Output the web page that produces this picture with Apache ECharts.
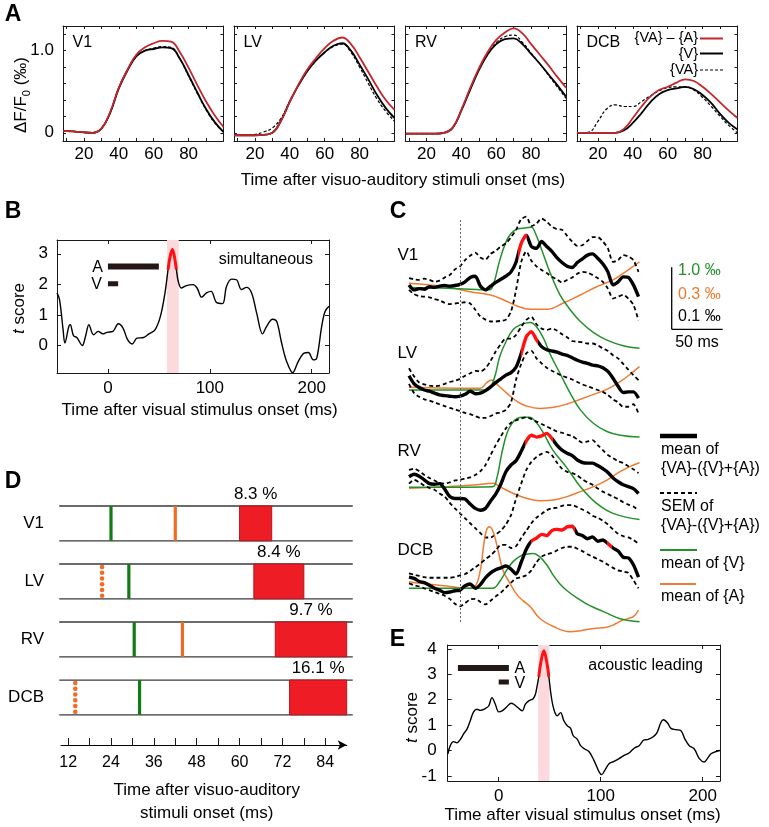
<!DOCTYPE html>
<html>
<head>
<meta charset="utf-8">
<title>Figure</title>
<script src="https://cdn.jsdelivr.net/npm/echarts@6.0.0/dist/echarts.min.js"></script>
<style>
html,body{margin:0;padding:0;background:#ffffff;}
#chart{width:769px;height:827px;}
</style>
</head>
<body>
<div id="chart"></div>
<script>
// ================= DATA =================
// ---- Panel A : dF/F0 (permil) vs time after visuo-auditory stimuli onset (ms)
const aTime = [8,10,15,20,25,30,35,40,45,50,55,60,65,70,75,80,85,90,95,100];
const aRegions = ['V1','LV','RV','DCB'];
const aV1_V        = [0.02,0.02,0.015,0.005,0.0,0.05,0.24,0.54,0.76,0.93,1.0,1.02,1.04,1.03,0.90,0.70,0.49,0.29,0.13,0.01];
const aV1_VAminusA = [0.02,0.02,0.015,0.005,0.0,0.05,0.25,0.55,0.77,0.95,1.04,1.09,1.12,1.11,0.98,0.79,0.58,0.38,0.21,0.07];
const aV1_VA       = [0.02,0.02,0.015,0.005,0.0,0.05,0.25,0.55,0.77,0.94,1.0,1.03,1.05,1.04,0.90,0.69,0.48,0.28,0.12,0.01];
const aLV_V        = [-0.03,-0.03,-0.03,-0.03,-0.025,0.0,0.15,0.38,0.58,0.75,0.88,0.98,1.06,1.09,1.0,0.83,0.65,0.46,0.30,0.18];
const aLV_VAminusA = [-0.03,-0.03,-0.03,-0.03,-0.025,0.0,0.15,0.38,0.59,0.77,0.91,1.03,1.12,1.16,1.08,0.92,0.74,0.56,0.40,0.28];
const aLV_VA       = [-0.03,-0.03,-0.03,-0.02,0.01,0.06,0.18,0.39,0.58,0.75,0.88,0.98,1.05,1.08,0.98,0.80,0.60,0.41,0.26,0.14];
const aRV_V        = [-0.01,-0.01,-0.01,-0.01,-0.01,0.0,0.06,0.27,0.52,0.76,0.95,1.08,1.14,1.15,1.08,0.96,0.84,0.71,0.58,0.44];
const aRV_VAminusA = [-0.01,-0.01,-0.01,-0.01,-0.01,0.0,0.06,0.28,0.54,0.78,0.98,1.13,1.22,1.27,1.21,1.08,0.95,0.82,0.68,0.55];
const aRV_VA       = [-0.01,-0.01,-0.01,-0.01,-0.01,0.0,0.06,0.28,0.53,0.77,0.97,1.10,1.17,1.19,1.10,0.97,0.84,0.70,0.56,0.42];
const aDCB_V        = [0,0,0,0,0,0,0.03,0.12,0.24,0.37,0.47,0.52,0.54,0.56,0.53,0.46,0.36,0.23,0.12,0.04];
const aDCB_VAminusA = [0,0,0,0,0,0,0.05,0.18,0.32,0.44,0.52,0.56,0.61,0.65,0.63,0.56,0.47,0.37,0.27,0.18];
const aDCB_VA       = [0,0,0.01,0.14,0.29,0.34,0.32,0.32,0.38,0.45,0.51,0.55,0.56,0.56,0.52,0.43,0.32,0.20,0.09,0.0];
const aXTicks = [10,20,30,40,50,60,70,80,90];
const aXLabels = [20,40,60,80];
const aYTicks = [0,0.2,0.4,0.6,0.8,1.0,1.2];
const aYLabels = [0,1];

// ---- Panel B : t score, simultaneous
const bTime  = [-50,-47.5,-44,-42.3,-38.4,-37,-33.8,-30.5,-25.2,-22,-18.7,-14.1,-9.5,-4.9,-1,4.9,10.2,14.8,19.3,23.9,28.5,35,40.3,46.2,51.5,56,59,61,63.3,65,67.2,69,72,77,83.6,87.5,92,96.7,101.3,106.5,112.5,116.4,121.3,126.2,131,136,141,146,151.8,155.7,161.6,165.6,170.5,175.4,181.3,186.9,192.5,196.7,201.6,204.9,209.8,213.1,217];
const bScore = [1.72,1.5,0.51,0.08,0.62,0.68,0.32,0.26,0.0,0.3,0.68,0.35,0.46,0.38,0.43,0.46,0.71,0.57,0.19,0.05,0.24,0.26,0.38,0.51,0.95,1.72,2.48,2.9,3.14,2.95,2.48,2.1,1.88,1.96,1.99,1.88,1.58,1.72,1.77,1.41,1.37,1.93,2.17,2.15,1.83,1.9,1.72,1.06,0.38,0.62,0.86,0.79,0.08,-0.52,-0.89,-0.52,-0.25,-0.23,-0.47,-0.42,0.62,1.11,1.28];
const bSignif = [59, 67.2];
const bBand = [58, 69.5];
const bStimA = [0, 50];
const bStimV = [0, 10];
const bTicksX = [0,100,200];
const bTicksY = [0,1,2,3];

// ---- Panel C : traces (permil) vs time after visual stimulus onset (ms)
const cTime = [-50,-45,-40,-35,-30,-25,-20,-15,-10,-5,0,5,10,15,20,25,30,35,40,45,50,55,60,65,70,75,80,85,90,95,100,105,110,115,120,125,130,135,140,145,150,155,160,165,170,175];
const cV1Mean  = [0.005,-0.003,-0.001,-0.002,0.002,0.001,0.003,0.004,0.003,0.004,0.006,0.010,0.017,0.019,0.003,-0.003,0.003,0.009,0.014,0.019,0.026,0.042,0.072,0.085,0.067,0.064,0.075,0.067,0.059,0.049,0.041,0.035,0.033,0.041,0.047,0.053,0.055,0.048,0.039,0.026,0.005,0.010,0.018,0.017,0.005,-0.014];
const cV1SemHi = [0.016,0.014,0.013,0.015,0.013,0.010,0.012,0.017,0.021,0.030,0.035,0.045,0.052,0.057,0.049,0.046,0.055,0.060,0.067,0.072,0.082,0.094,0.111,0.115,0.100,0.104,0.112,0.107,0.099,0.095,0.094,0.084,0.075,0.068,0.069,0.076,0.082,0.082,0.075,0.064,0.042,0.045,0.053,0.051,0.045,0.026];
const cV1SemLo = [-0.003,-0.010,-0.013,-0.014,-0.015,-0.018,-0.020,-0.024,-0.026,-0.025,-0.024,-0.023,-0.025,-0.035,-0.046,-0.051,-0.054,-0.054,-0.053,-0.051,-0.038,-0.003,0.042,0.059,0.044,0.035,0.029,0.024,0.018,0.014,0.009,0.013,0.017,0.023,0.026,0.025,0.021,0.016,0.010,-0.001,-0.017,-0.014,-0.011,-0.017,-0.027,-0.052];
const cLVMean  = [0.023,0.010,0.004,0.000,-0.002,-0.005,-0.008,-0.009,-0.010,-0.011,-0.010,-0.007,-0.002,-0.006,-0.005,-0.001,0.005,0.012,0.018,0.024,0.028,0.037,0.059,0.086,0.094,0.081,0.070,0.065,0.063,0.061,0.058,0.056,0.052,0.048,0.045,0.043,0.040,0.039,0.036,0.030,0.019,0.006,-0.004,-0.003,-0.003,-0.013];
const cLVSemHi = [0.035,0.022,0.012,0.009,0.007,0.006,0.007,0.010,0.013,0.015,0.018,0.023,0.027,0.031,0.030,0.035,0.047,0.062,0.074,0.083,0.083,0.089,0.102,0.113,0.118,0.106,0.099,0.097,0.099,0.096,0.090,0.085,0.079,0.078,0.077,0.075,0.075,0.072,0.067,0.063,0.056,0.051,0.042,0.033,0.024,0.016];
const cLVSemLo = [0.010,-0.005,-0.011,-0.015,-0.017,-0.020,-0.023,-0.026,-0.029,-0.031,-0.034,-0.037,-0.039,-0.042,-0.045,-0.045,-0.042,-0.038,-0.036,-0.032,-0.020,0.017,0.042,0.059,0.063,0.051,0.043,0.036,0.031,0.027,0.023,0.020,0.017,0.013,0.009,0.006,0.003,0.000,-0.003,-0.008,-0.015,-0.020,-0.027,-0.027,-0.023,-0.038];
const cRVMean  = [0.017,0.021,0.018,0.012,0.006,0.005,0.006,-0.003,-0.015,-0.018,-0.018,-0.019,-0.027,-0.034,-0.037,-0.034,-0.022,-0.011,0.005,0.025,0.036,0.043,0.058,0.075,0.084,0.081,0.083,0.087,0.079,0.068,0.060,0.055,0.051,0.044,0.040,0.039,0.039,0.035,0.030,0.024,0.015,0.009,0.004,0.001,-0.002,-0.010];
const cRVSemHi = [0.028,0.030,0.026,0.020,0.015,0.011,0.007,0.006,0.008,0.011,0.012,0.014,0.016,0.020,0.026,0.036,0.052,0.068,0.082,0.095,0.104,0.108,0.111,0.113,0.110,0.106,0.102,0.098,0.094,0.090,0.088,0.085,0.083,0.077,0.072,0.074,0.076,0.068,0.060,0.052,0.047,0.042,0.039,0.034,0.029,0.023];
const cRVSemLo = [0.006,0.012,0.008,0.003,-0.001,-0.004,-0.010,-0.015,-0.025,-0.034,-0.042,-0.050,-0.058,-0.066,-0.074,-0.081,-0.081,-0.076,-0.070,-0.060,-0.045,-0.018,0.006,0.028,0.041,0.049,0.054,0.057,0.052,0.040,0.030,0.025,0.023,0.019,0.013,0.008,0.004,-0.002,-0.007,-0.011,-0.015,-0.019,-0.024,-0.028,-0.031,-0.037];
const cDCBMean  = [0.018,0.016,0.011,0.009,0.005,0.000,-0.003,-0.007,-0.006,-0.004,-0.003,0.004,0.007,0.000,0.006,0.017,0.025,0.030,0.033,0.036,0.031,0.023,0.042,0.063,0.076,0.081,0.087,0.085,0.093,0.095,0.094,0.099,0.100,0.088,0.085,0.080,0.083,0.076,0.078,0.072,0.065,0.060,0.050,0.049,0.038,0.018];
const cDCBSemHi = [0.024,0.022,0.020,0.018,0.017,0.017,0.017,0.017,0.017,0.018,0.021,0.023,0.028,0.034,0.040,0.047,0.053,0.061,0.070,0.070,0.065,0.068,0.081,0.093,0.105,0.114,0.120,0.126,0.129,0.130,0.133,0.134,0.134,0.131,0.127,0.123,0.117,0.114,0.109,0.103,0.095,0.088,0.084,0.082,0.078,0.072];
const cDCBSemLo = [0.008,0.005,0.003,0.000,-0.003,-0.006,-0.009,-0.012,-0.017,-0.025,-0.029,-0.024,-0.018,-0.017,-0.022,-0.026,-0.020,-0.013,-0.007,0.001,0.009,0.016,0.018,0.021,0.029,0.042,0.051,0.055,0.057,0.061,0.065,0.067,0.067,0.064,0.060,0.055,0.051,0.047,0.043,0.038,0.033,0.029,0.027,0.025,0.013,0.000];
const cV1Green  = [[-50,0.01],[-20,0.0],[10,-0.02],[29,-0.03],[33,0.07],[39,0.45],[45,0.74],[50,0.88],[56,0.95],[65,0.97],[70,0.98],[74,0.88],[80,0.62],[88,0.26],[98,-0.11],[108,-0.35],[118,-0.54],[131,-0.72],[144,-0.84],[160,-0.93],[176,-0.97]];
const cV1Orange = [[-50,0.023],[-30,0.015],[-10,0.003],[10,-0.018],[30,-0.034],[43,-0.058],[56,-0.087],[69,-0.103],[85,-0.103],[101,-0.074],[118,-0.034],[134,0.006],[150,0.039],[160,0.071],[167,0.095],[176,0.127]];
const cLVGreen  = [[-50,0],[26,0],[33,0.16],[39,0.54],[46,0.81],[52,0.97],[59,1.05],[69,1.09],[75,1.02],[82,0.83],[88,0.59],[98,0.27],[108,-0.05],[118,-0.32],[131,-0.54],[144,-0.67],[157,-0.73],[176,-0.76]];
const cLVOrange = [[-50,0.013],[20,0.008],[26,0.035],[31,0.048],[37,0.024],[46,-0.016],[56,-0.056],[65,-0.077],[78,-0.089],[92,-0.084],[105,-0.068],[118,-0.045],[131,-0.021],[144,0.003],[157,0.040],[170,0.089],[176,0.113]];
const cRVGreen  = [[-50,0],[32,0.01],[36,0.14],[41,0.55],[46,0.87],[51,1.03],[56,1.11],[62,1.13],[68,1.13],[75,1.04],[82,0.87],[91,0.6],[105,0.31],[118,0.01],[134,-0.26],[150,-0.42],[176,-0.52]];
const cRVOrange = [[-50,-0.005],[-13,0.003],[13,0.011],[33,0.019],[39,0.003],[52,-0.029],[65,-0.053],[78,-0.065],[92,-0.061],[105,-0.045],[118,-0.021],[131,0.003],[144,0.035],[157,0.076],[170,0.108],[176,0.119]];
const cDCBGreen  = [[-50,0],[32,0],[39,0.11],[46,0.30],[52,0.43],[59,0.52],[65,0.55],[72,0.56],[78,0.51],[85,0.38],[91,0.22],[98,0.07],[105,-0.04],[115,-0.16],[124,-0.25],[134,-0.33],[144,-0.40],[157,-0.49],[176,-0.54]];
const cDCBOrange = [[-50,0.032],[-39,0.024],[-13,0.011],[6,0.0],[14,0.006],[20,0.089],[23,0.201],[26,0.282],[29,0.298],[33,0.266],[38,0.169],[42,0.089],[49,0.024],[56,-0.032],[62,-0.061],[69,-0.089],[78,-0.145],[92,-0.186],[108,-0.21],[118,-0.205],[131,-0.194],[144,-0.189],[150,-0.178],[160,-0.153],[170,-0.137],[175,-0.105]];
const cV1Signif  = [[57,66]];
const cLVSignif  = [[60,76]];
const cRVSignif  = [[64,91]];
const cDCBSignif = [[70,113],[144,149]];
const cScaleBarPermil = {mean: 0.1, green: 1.0, orange: 0.3};
const cScaleBarMs = 50;

// ---- Panel D : onset latencies (ms after visuo-auditory stimuli onset)
const dRows = ['V1','LV','RV','DCB'];
const dGreenOnset  = [24, 29, 30.5, 32];
const dOrangeOnset = [42, 21.5, 44, 14];
const dOrangeDotted = [false, true, false, true];
const dSigStart = [60, 64, 70, 74];
const dSigEnd   = [69, 78, 90, 90];
const dSigPercent = [8.3, 8.4, 9.7, 16.1];
const dTicks  = [12,18,24,30,36,42,48,54,60,66,72,78,84];
const dLabels = [12,24,36,48,60,72,84];

// ---- Panel E : t score, acoustic leading
const eTime  = [-49.8,-47.5,-44.3,-41,-37.7,-34.4,-31.1,-27.9,-24.6,-21.3,-18,-13.1,-9.8,-6.6,-3.3,0,3.3,8.2,12.1,14.8,18.7,23,26.2,29.5,33.8,36,37.5,39.3,41.5,44.3,47,49.2,51.5,54.1,57.4,60.7,63.9,67.2,70.5,73.1,77,80.3,84.3,88.5,93.4,98.4,101,104,108.2,113.1,118,123,127.9,132.8,137.7,142.6,145.9,150.8,155,159,161.6,165.6,168.9,173.8,178.7,182.6,186.9,191.8,196.7,201.6,204.9,208.2,213.1,217];
const eScore = [-0.13,0.19,0.35,0.30,0.43,0.65,0.84,1.17,1.52,1.62,1.58,1.65,1.75,2.08,1.82,1.52,1.56,1.73,1.86,1.82,1.69,1.56,1.82,1.95,2.04,2.21,2.5,2.9,3.5,3.92,3.5,2.9,2.14,1.62,1.36,1.49,1.17,0.97,0.87,0.58,0.45,0.19,0.06,-0.04,-0.39,-0.84,-0.95,-0.78,-0.52,-0.43,-0.32,-0.19,-0.10,0.09,0.19,0.42,0.43,0.52,0.68,1.10,1.21,1.08,0.87,0.82,0.78,0.45,0.19,0.06,-0.32,-0.45,-0.30,-0.13,-0.04,0.0];
const eSignif = [39.3, 49.2];
const eBand = [38.7, 49.8];
const eStimA = [-40, 10];
const eStimV = [0, 10];
const eTicksY = [-1,0,1,2,3,4];

// ================= LAYOUT / STYLE =================
const FONT = '"Liberation Sans", Arial, Helvetica, sans-serif';
const font = (s, w) => (w ? w + ' ' : '') + s + 'px ' + FONT;
const RED_A = '#c1272d', RED = '#ff1111', PINK = '#fbd9dc';
const C_GREEN = '#23912a', C_ORANGE = '#f07a32';
const D_GREEN = '#147a16', D_ORANGE = '#f26b22', D_RED = '#ee1d25';
const BARC = '#231815';

const aLeft = [63, 234, 405.5, 577], aTop = 26, aW = 160.5, aH = 115;
const cLeft = 409, cTop = 218, cHeight = 404, cPxPerMs = 1.02, cXMin = -50, cXMax = 176;
const cBarPx = 62;               // pixel length of the scale bar
const cBaseY = [288, 390, 487.3, 588.3];
const dSpan = 0.6, dFrameFrom = 9.5, dFrameTo = 91.7;
const bBarY = [2.58, 2.02], eBarY = [3.25, 2.69];

const grids = [];
aLeft.forEach(l => grids.push({left: l, top: aTop, width: aW, height: aH}));
grids.push({left: 57, top: 240, width: 272, height: 133});                       // 4 B
grids.push({left: cLeft, top: cTop, width: (cXMax - cXMin) * cPxPerMs, height: cHeight}); // 5 C
grids.push({left: 61, top: 506, width: 285.7, height: 239});                     // 6 D
grids.push({left: 447.7, top: 645, width: 272.3, height: 136});                  // 7 E
grids.forEach(g => { g.containLabel = false; g.outerBoundsMode = 'none'; g.show = false; });

function axis(gridIndex, position, min, max, ticks, labels, tickLen, margin, fmt, fs) {
  const a = {
    type: 'value', gridIndex, position, min, max, silent: true,
    splitLine: {show: false},
    axisLine: {show: true, onZero: false, lineStyle: {color: '#1a1a1a', width: 1}},
    axisTick: {show: !!ticks, inside: true, length: tickLen, lineStyle: {color: '#1a1a1a', width: 1}},
    axisLabel: {show: !!labels, margin: margin, color: '#000', fontSize: fs || 17, fontFamily: FONT, hideOverlap: false}
  };
  if (ticks) a.axisTick.customValues = ticks;
  if (labels) a.axisLabel.customValues = labels;
  if (fmt) a.axisLabel.formatter = fmt;
  return a;
}
const hidden = (gridIndex, min, max) => ({type: 'value', gridIndex, min, max, show: false, splitLine: {show: false}});

const xAxes = [], yAxes = [], series = [], visualMaps = [], graphics = [];
const zip = (xs, ys) => xs.map((x, i) => [x, ys[i]]);
function line(xi, yi, data, ls, extra) {
  return Object.assign({type: 'line', xAxisIndex: xi, yAxisIndex: yi, data, symbol: 'none', showSymbol: false,
    silent: true, animation: false, smooth: 0.3, lineStyle: ls, z: 2}, extra || {});
}

// ---------- Panel A ----------
const aSets = [[aV1_VA, aV1_V, aV1_VAminusA], [aLV_VA, aLV_V, aLV_VAminusA], [aRV_VA, aRV_V, aRV_VAminusA], [aDCB_VA, aDCB_V, aDCB_VAminusA]];
aRegions.forEach((name, r) => {
  xAxes.push(axis(r, 'bottom', 8, 100, aXTicks, aXLabels, 3, 5));
  xAxes.push(axis(r, 'top', 8, 100, aXTicks, null, 3, 5));
  yAxes.push(axis(r, 'left', -0.1, 1.3, aYTicks, r === 0 ? aYLabels : null, 3, 9, v => (v === 0 ? '0' : v.toFixed(1))));
  yAxes.push(axis(r, 'right', -0.1, 1.3, aYTicks, null, 3, 5));
  const [va, v, diff] = aSets[r];
  series.push(line(2 * r, 2 * r, zip(aTime, va), {color: '#000', width: 1.2, type: [3, 2]}, {smooth: 0.45}));
  series.push(line(2 * r, 2 * r, zip(aTime, v), {color: '#000', width: 1.8}, {smooth: 0.45}));
  series.push(line(2 * r, 2 * r, zip(aTime, diff), {color: RED_A, width: 1.8}, {smooth: 0.45}));
});

// ---------- Panel B ----------
xAxes.push(axis(4, 'bottom', -50, 217, bTicksX, bTicksX, 4, 7));     // 8
xAxes.push(axis(4, 'top', -50, 217, bTicksX, null, 4, 7));           // 9
yAxes.push(axis(4, 'left', -0.9, 3.45, bTicksY, bTicksY, 4, 9));     // 8
yAxes.push(axis(4, 'right', -0.9, 3.45, bTicksY, null, 4, 9));       // 9
const bData = zip(bTime, bScore);
series.push(line(8, 8, bData, {color: '#000', width: 1.4}, {smooth: 0.35,
  markArea: {silent: true, z: 1, itemStyle: {color: PINK}, data: [[{xAxis: bBand[0]}, {xAxis: bBand[1]}]]}}));
series.push(line(8, 8, bData.filter(p => p[0] >= bSignif[0] && p[0] <= bSignif[1]), {color: RED, width: 3}, {smooth: 0.35, z: 3}));
series.push(line(8, 8, [[bStimA[0], bBarY[0]], [bStimA[1], bBarY[0]]], {color: BARC, width: 6}, {smooth: false}));
series.push(line(8, 8, [[bStimV[0], bBarY[1]], [bStimV[1], bBarY[1]]], {color: BARC, width: 5}, {smooth: false}));

// ---------- Panel C ----------
xAxes.push(hidden(5, cXMin, cXMax));   // 10
const cRegions = [
  {name: 'V1', mean: cV1Mean, hi: cV1SemHi, lo: cV1SemLo, green: cV1Green, orange: cV1Orange, sig: cV1Signif},
  {name: 'LV', mean: cLVMean, hi: cLVSemHi, lo: cLVSemLo, green: cLVGreen, orange: cLVOrange, sig: cLVSignif},
  {name: 'RV', mean: cRVMean, hi: cRVSemHi, lo: cRVSemLo, green: cRVGreen, orange: cRVOrange, sig: cRVSignif},
  {name: 'DCB', mean: cDCBMean, hi: cDCBSemHi, lo: cDCBSemLo, green: cDCBGreen, orange: cDCBOrange, sig: cDCBSignif}
];
const cKinds = ['mean', 'green', 'orange'];
cRegions.forEach((reg, r) => {
  const idx = {};
  cKinds.forEach(k => {
    const s = cScaleBarPermil[k];
    const max = (cBaseY[r] - cTop) / cBarPx * s;
    const min = max - cHeight / cBarPx * s;
    idx[k] = yAxes.length;
    yAxes.push(hidden(5, min, max));
  });
  const extra = {clip: false, smooth: 0.25};
  const orangeS = line(10, idx.orange, reg.orange, {color: C_ORANGE, width: 1.5}, Object.assign({}, extra, {smooth: 0.4}));
  if (r === 0) {
    orangeS.markLine = {silent: true, symbol: 'none', label: {show: false}, animation: false,
      lineStyle: {type: [2, 2], color: '#666', width: 1}, data: [{xAxis: 0}]};
  }
  series.push(orangeS);
  series.push(line(10, idx.green, reg.green, {color: C_GREEN, width: 1.5}, Object.assign({}, extra, {smooth: 0.4})));
  series.push(line(10, idx.mean, zip(cTime, reg.hi), {color: '#000', width: 1.8, type: [4, 3]}, extra));
  series.push(line(10, idx.mean, zip(cTime, reg.lo), {color: '#000', width: 1.8, type: [4, 3]}, extra));
  series.push(line(10, idx.mean, zip(cTime, reg.mean), {width: 3.4}, Object.assign({}, extra, {z: 4})));
  visualMaps.push({type: 'piecewise', show: false, seriesIndex: series.length - 1, dimension: 0,
    pieces: reg.sig.map(s => ({gte: s[0], lte: s[1], color: RED})), outOfRange: {color: '#000'}});
});

// ---------- Panel D ----------
xAxes.push(Object.assign(axis(6, 'bottom', 10, 90, dTicks, dLabels, 7, 10, null, 16), {}));  // 11
xAxes[xAxes.length - 1].axisLine = {show: true, onZero: false, symbol: ['none', 'arrow'], symbolSize: [7, 9],
  lineStyle: {color: '#000', width: 1.2}};
yAxes.push({type: 'value', gridIndex: 6, min: 0, max: 4.12, inverse: true, show: false, splitLine: {show: false}}); // 22
const dX = 11, dY = 22;
series.push({type: 'custom', coordinateSystem: 'cartesian2d', xAxisIndex: dX, yAxisIndex: dY, silent: true,
  data: dRows.map((n, i) => [i]),
  renderItem: (p, api) => {
    const row = api.value(0);
    const a = api.coord([dFrameFrom, row]), b = api.coord([dFrameTo, row]);
    const c = api.coord([dFrameFrom, row + dSpan]), d = api.coord([dFrameTo, row + dSpan]);
    return {type: 'group', children: [
      {type: 'line', shape: {x1: a[0], y1: a[1], x2: b[0], y2: b[1]}, style: {stroke: '#3a3a3a', lineWidth: 1.3}},
      {type: 'line', shape: {x1: c[0], y1: c[1], x2: d[0], y2: d[1]}, style: {stroke: '#3a3a3a', lineWidth: 1.3}}
    ]};
  }});
series.push({type: 'custom', coordinateSystem: 'cartesian2d', xAxisIndex: dX, yAxisIndex: dY, silent: true,
  data: dRows.map((n, i) => [dSigStart[i], i, dSigEnd[i], dSigPercent[i]]),
  renderItem: (p, api) => {
    const s = api.value(0), row = api.value(1), e = api.value(2), pct = api.value(3);
    const tl = api.coord([s, row]), br = api.coord([e, row + dSpan]);
    const mid = api.coord([(s + e) / 2, row]);
    return {type: 'group', children: [
      {type: 'rect', shape: {x: tl[0], y: tl[1], width: br[0] - tl[0], height: br[1] - tl[1]},
        style: {fill: D_RED, stroke: '#b5151c', lineWidth: 1}},
      {type: 'text', x: mid[0], y: mid[1] - 12, style: {text: pct.toFixed(1) + ' %', font: font(17), fill: '#000',
        textAlign: 'center', textVerticalAlign: 'middle'}}
    ]};
  }});
series.push({type: 'custom', coordinateSystem: 'cartesian2d', xAxisIndex: dX, yAxisIndex: dY, silent: true,
  data: dRows.map((n, i) => [dGreenOnset[i], i]),
  renderItem: (p, api) => {
    const t = api.value(0), row = api.value(1);
    const a = api.coord([t, row]), b = api.coord([t, row + dSpan]);
    return {type: 'line', shape: {x1: a[0], y1: a[1], x2: b[0], y2: b[1]}, style: {stroke: D_GREEN, lineWidth: 3.2}};
  }});
series.push({type: 'custom', coordinateSystem: 'cartesian2d', xAxisIndex: dX, yAxisIndex: dY, silent: true,
  data: dRows.map((n, i) => [dOrangeOnset[i], i, dOrangeDotted[i] ? 1 : 0]),
  renderItem: (p, api) => {
    const t = api.value(0), row = api.value(1), dotted = api.value(2);
    const a = api.coord([t, row]), b = api.coord([t, row + dSpan]);
    if (!dotted) {
      return {type: 'line', shape: {x1: a[0], y1: a[1], x2: b[0], y2: b[1]}, style: {stroke: D_ORANGE, lineWidth: 3.2}};
    }
    const n = 6, children = [];
    for (let k = 0; k < n; k++) {
      const y = a[1] + 3 + k * (b[1] - a[1] - 6) / (n - 1);
      children.push({type: 'circle', shape: {cx: a[0], cy: y, r: 2.3}, style: {fill: D_ORANGE}});
    }
    return {type: 'group', children};
  }});

// ---------- Panel E ----------
xAxes.push(axis(7, 'bottom', -50, 217, bTicksX, bTicksX, 4, 7));   // 12
xAxes.push(axis(7, 'top', -50, 217, bTicksX, null, 4, 7));         // 13
yAxes.push(axis(7, 'left', -1.2, 4.15, eTicksY, eTicksY, 4, 11));  // 23
yAxes.push(axis(7, 'right', -1.2, 4.15, eTicksY, null, 4, 11));    // 24
const eData = zip(eTime, eScore);
series.push(line(12, 23, eData, {color: '#000', width: 1.4}, {smooth: 0.35,
  markArea: {silent: true, z: 1, itemStyle: {color: PINK}, data: [[{xAxis: eBand[0]}, {xAxis: eBand[1]}]]}}));
series.push(line(12, 23, eData.filter(p => p[0] >= eSignif[0] && p[0] <= eSignif[1]), {color: RED, width: 3}, {smooth: 0.35, z: 3}));
series.push(line(12, 23, [[eStimA[0], eBarY[0]], [eStimA[1], eBarY[0]]], {color: BARC, width: 6}, {smooth: false}));
series.push(line(12, 23, [[eStimV[0], eBarY[1]], [eStimV[1], eBarY[1]]], {color: BARC, width: 5}, {smooth: false}));

// ================= TEXT / ANNOTATIONS =================
function txt(x, y, text, size, opt, elOpt) {
  return Object.assign({type: 'text', x, y, silent: true, z: 10,
    style: Object.assign({text, fill: '#000', font: font(size), textAlign: 'left', textVerticalAlign: 'middle'}, opt || {})}, elOpt || {});
}
function seg(x1, y1, x2, y2, stroke, w, dash) {
  const s = {stroke, lineWidth: w};
  if (dash) s.lineDash = dash;
  return {type: 'line', silent: true, z: 10, shape: {x1, y1, x2, y2}, style: s};
}
// panel letters
[['A', 13, 15], ['B', 13, 212], ['C', 398, 212], ['D', 13, 482], ['E', 397.5, 639.5]].forEach(l =>
  graphics.push(txt(l[1], l[2], l[0], 23, {font: font(23, 'bold'), textAlign: 'center'})));

// A
graphics.push(txt(21, 95, 'ΔF/F{sub|0} (‰)', 17, {textAlign: 'center',
  rich: {sub: {fontSize: 11, fontFamily: FONT, verticalAlign: 'bottom', lineHeight: 22}}}, {rotation: Math.PI / 2}));
graphics.push(txt(403, 180.5, 'Time after visuo-auditory stimuli onset (ms)', 17, {textAlign: 'center'}));
aRegions.forEach((n, r) => graphics.push(txt(aLeft[r] + 9.5, 42.5, n, 16)));
graphics.push(txt(698, 38, '{VA} – {A}', 14.5, {textAlign: 'right'}));
graphics.push(txt(698, 53.5, '{V}', 14.5, {textAlign: 'right'}));
graphics.push(txt(698, 69.5, '{VA}', 14.5, {textAlign: 'right'}));
graphics.push(seg(700, 38.5, 723, 38.5, RED_A, 2));
graphics.push(seg(700, 53.5, 723, 53.5, '#000', 2));
graphics.push(seg(700, 70, 723, 70, '#000', 1.2, [3, 2]));

// B
graphics.push(txt(19, 308.5, '{it|t} score', 17, {textAlign: 'center',
  rich: {it: {fontStyle: 'italic', fontSize: 17, fontFamily: FONT}}}, {rotation: Math.PI / 2}));
graphics.push(txt(199.7, 410.5, 'Time after visual stimulus onset (ms)', 17, {textAlign: 'center'}));
graphics.push(txt(313, 260, 'simultaneous', 16, {textAlign: 'right'}));
graphics.push(txt(103, 267.5, 'A', 16, {textAlign: 'right'}));
graphics.push(txt(102, 284.5, 'V', 16, {textAlign: 'right'}));

// C
[['V1', 255], ['LV', 353], ['RV', 451.7], ['DCB', 550]].forEach(l => graphics.push(txt(397.5, l[1], l[0], 17)));
const sbX = 671.7, sbBottom = 329.3;
graphics.push(seg(sbX, sbBottom - cBarPx, sbX, sbBottom, '#000', 1.3));
graphics.push(seg(sbX, sbBottom, sbX + cScaleBarMs * cPxPerMs, sbBottom, '#000', 1.3));
graphics.push(txt(678, 271, cScaleBarPermil.green.toFixed(1) + ' ‰', 16, {fill: C_GREEN}));
graphics.push(txt(678, 295, cScaleBarPermil.orange.toFixed(1) + ' ‰', 16, {fill: C_ORANGE}));
graphics.push(txt(678, 317, cScaleBarPermil.mean.toFixed(1) + ' ‰', 16));
graphics.push(txt(697, 343, cScaleBarMs + ' ms', 16, {textAlign: 'center'}));
graphics.push(seg(660, 436, 697, 436, '#000', 4.5));
graphics.push(txt(661, 449.5, 'mean of', 16));
graphics.push(txt(661, 468.5, '{VA}-({V}+{A})', 16));
graphics.push(seg(660, 493, 697, 493, '#000', 2, [4, 3]));
graphics.push(txt(661, 507, 'SEM of', 16));
graphics.push(txt(661, 525.5, '{VA}-({V}+{A})', 16));
graphics.push(seg(660, 550, 697, 550, C_GREEN, 2));
graphics.push(txt(661, 563.5, 'mean of {V}', 16));
graphics.push(seg(660, 584, 696, 584, C_ORANGE, 2));
graphics.push(txt(661, 596.5, 'mean of {A}', 16));

// D
[['V1', 523.5], ['LV', 581.7], ['RV', 639.3], ['DCB', 697.3]].forEach(l =>
  graphics.push(txt(44, l[1], l[0], 17, {textAlign: 'right'})));
graphics.push(txt(206.7, 790, 'Time after visuo-auditory', 17, {textAlign: 'center'}));
graphics.push(txt(206.7, 813.5, 'stimuli onset (ms)', 17, {textAlign: 'center'}));

// E
graphics.push(txt(412.5, 717.5, '{it|t} score', 17, {textAlign: 'center',
  rich: {it: {fontStyle: 'italic', fontSize: 17, fontFamily: FONT}}}, {rotation: Math.PI / 2}));
graphics.push(txt(582.5, 815, 'Time after visual stimulus onset (ms)', 17, {textAlign: 'center'}));
graphics.push(txt(703, 666, 'acoustic leading', 16, {textAlign: 'right'}));
graphics.push(txt(514.5, 668.5, 'A', 16));
graphics.push(txt(514.5, 683.5, 'V', 16));

// ================= RENDER =================
const chart = echarts.init(document.getElementById('chart'), null, {renderer: 'canvas', width: 769, height: 827});
chart.setOption({
  animation: false,
  backgroundColor: '#ffffff',
  textStyle: {fontFamily: FONT},
  grid: grids,
  xAxis: xAxes,
  yAxis: yAxes,
  visualMap: visualMaps,
  series: series,
  graphic: graphics
});
</script>
</body>
</html>
